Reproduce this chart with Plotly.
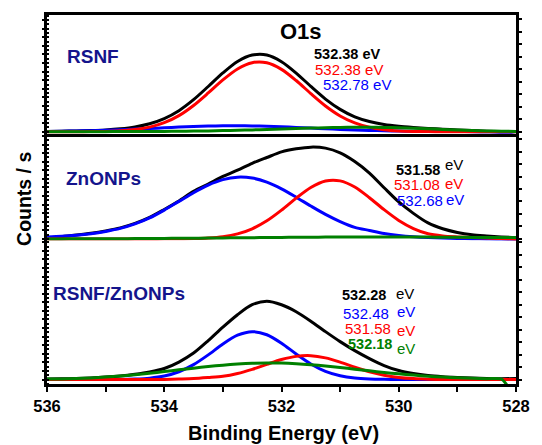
import plotly.graph_objects as go

# ---------------- data ----------------
energy = [536.0, 535.75, 535.5, 535.25, 535.0, 534.75, 534.5, 534.25, 534.0,
          533.75, 533.5, 533.25, 533.0, 532.75, 532.5, 532.25, 532.0, 531.75,
          531.5, 531.25, 531.0, 530.75, 530.5, 530.25, 530.0, 529.75, 529.5,
          529.25, 529.0, 528.75, 528.5, 528.25, 528.0]

# RSNF panel (counts, arbitrary units)
rsnf_black = [0.3, 0.5, 0.7, 1.1, 1.75, 2.9, 4.8, 8.0, 13.2, 21.1, 32.1, 45.3, 58.9,
              70.4, 76.8, 76.9, 70.2, 58.8, 45.4, 32.7, 22.4, 14.9, 10.2, 7.2, 5.4,
              4.2, 3.25, 2.45, 1.8, 1.2, 0.5, 0.2, 0.0]
rsnf_red = [0.0, 0.0, 0.0, 0.1, 0.3, 0.9, 2.1, 4.6, 9.0, 16.1, 26.3, 38.8, 51.9,
            62.9, 69.2, 69.1, 62.5, 51.3, 38.2, 25.8, 15.8, 8.8, 4.4, 2.0, 0.8,
            0.3, 0.1, 0.0, 0.0, 0.0, 0.0, 0.0, 0.0]
rsnf_blue = [0.3, 0.5, 0.7, 1.0, 1.4, 1.9, 2.6, 3.2, 3.9, 4.6, 5.2, 5.7, 5.9,
             6.0, 5.8, 5.5, 5.0, 4.3, 3.6, 2.9, 2.3, 1.7, 1.3, 0.9, 0.6,
             0.4, 0.25, 0.15, 0.1, 0.0, -0.3, -1.0, -4.0]
rsnf_green = [0.0, 0.0, 0.0, 0.0, 0.05, 0.1, 0.1, 0.2, 0.3, 0.4, 0.6, 0.8, 1.1,
              1.5, 1.8, 2.3, 2.7, 3.2, 3.6, 4.0, 4.3, 4.4, 4.5, 4.3, 4.0,
              3.5, 2.9, 2.3, 1.7, 1.2, 0.8, 0.5, 0.3]

# ZnONPs panel
zno_black = [1.0, 2.2, 3.8, 5.6, 8.0, 11.0, 15.5, 21.5, 29.5, 38.0, 47.6, 54.9, 62.6,
             68.9, 75.8, 81.6, 87.2, 90.3, 92.0, 91.0, 86.3, 77.6, 66.0, 51.3, 37.0,
             25.6, 16.0, 10.2, 6.5, 4.2, 3.0, 2.0, 1.2]
zno_blue = [2.0, 2.6, 3.6, 5.2, 7.5, 10.5, 15.0, 21.0, 28.9, 37.6, 46.3, 53.9, 59.4,
            61.9, 61.0, 56.9, 50.2, 41.8, 33.0, 24.6, 17.4, 11.6, 8.5, 5.5, 3.5,
            2.2, 1.4, 0.9, 0.5, 0.2, 0.0, -0.3, -1.0]
zno_red = [0.0, 0.0, 0.0, 0.0, 0.0, 0.0, 0.0, 0.0, 0.03, 0.1, 0.3, 0.9, 2.2,
           5.0, 10.1, 18.1, 28.8, 40.9, 51.6, 58.1, 58.2, 52.0, 41.3, 29.3, 18.5,
           10.4, 5.2, 3.0, 2.0, 1.3, 0.8, 0.4, -0.5]
zno_green = [0.0, 0.0, 0.1, 0.1, 0.2, 0.2, 0.3, 0.4, 0.5, 0.6, 0.7, 0.8, 1.0,
             1.1, 1.2, 1.4, 1.5, 1.6, 1.7, 1.8, 1.9, 1.9, 2.0, 2.0, 1.9,
             1.9, 1.8, 1.7, 1.6, 1.5, 1.5, 1.5, 1.5]

# RSNF/ZnONPs panel
mix_black = [0.5, 0.7, 1.0, 1.6, 2.4, 3.5, 5.2, 7.5, 11.0, 17.5, 26.5, 39.0, 52.5,
             65.0, 75.0, 78.5, 75.0, 68.0, 58.5, 48.0, 38.0, 29.0, 21.0, 14.0, 9.0,
             6.0, 4.0, 2.8, 2.0, 1.4, 1.0, 0.8, 1.0]
mix_blue = [0.0, 0.0, 0.0, 0.0, 0.03, 0.1, 0.5, 1.4, 3.5, 7.8, 14.9, 24.7, 35.6,
            44.4, 48.0, 44.9, 36.4, 25.6, 15.6, 8.2, 3.8, 1.5, 0.5, 0.15, 0.05,
            0.0, 0.0, 0.0, 0.0, 0.0, 0.0, 0.0, 0.0]
mix_red = [0.0, 0.0, 0.0, 0.0, 0.0, 0.0, 0.0, 0.0, 0.1, 0.5, 1.0, 2.0, 3.2,
           6.0, 10.2, 15.2, 20.0, 23.2, 23.9, 21.7, 17.4, 12.3, 7.7, 4.3, 2.1,
           0.9, 0.3, 0.1, 0.0, 0.0, 0.0, 0.0, 0.0]
mix_green_energy = energy[:-1] + [528.15]
mix_green = [0.4, 0.6, 1.0, 1.6, 2.4, 3.5, 4.8, 6.3, 8.0, 9.7, 11.4, 13.0, 14.4,
             15.5, 16.3, 16.6, 16.5, 15.9, 14.9, 13.6, 12.1, 10.4, 8.7, 7.1, 5.7,
             4.4, 3.3, 2.4, 1.7, 1.2, 0.8, 0.5, -6.0]

x_ticks = [536, 534, 532, 530, 528]
sample_names = ["RSNF", "ZnONPs", "RSNF/ZnONPs"]

# ---------------- styling / layout ----------------
W, H = 542, 445
L, R, T, B = 47, 525, 14, 384
FONT = "Arial, Liberation Sans, sans-serif"
BLACK, BLUE, RED, GREEN, NAVY = "#000000", "#0000FF", "#FF0000", "#008000", "#14148C"


def pxx(x):
    return (x - L) / (R - L)


def pxy(y):
    return (B - y) / (B - T)


panel_bounds = [(14, 133), (133, 240), (240, 384)]   # top, bottom in pixels
baselines = [131, 238.5, 379.5]

panels = [
    [(energy, rsnf_black, BLACK), (energy, rsnf_blue, BLUE), (energy, rsnf_red, RED), (energy, rsnf_green, GREEN)],
    [(energy, zno_black, BLACK), (energy, zno_blue, BLUE), (energy, zno_red, RED), (energy, zno_green, GREEN)],
    [(energy, mix_black, BLACK), (energy, mix_blue, BLUE), (energy, mix_red, RED), (mix_green_energy, mix_green, GREEN)],
]

fig = go.Figure()
layout = dict(
    width=W, height=H,
    margin=dict(l=L, r=W - R, t=T, b=H - B, pad=0),
    paper_bgcolor="white", plot_bgcolor="white",
    showlegend=False,
)

for k, curves in enumerate(panels, start=1):
    top, bot = panel_bounds[k - 1]
    base = baselines[k - 1]
    ylo = -(bot - base)
    yhi = ylo + (bot - top)
    for xs, ys, col in curves:
        fig.add_trace(go.Scatter(x=xs, y=ys, mode="lines",
                                 line=dict(color=col, width=3, shape="spline", smoothing=0.8),
                                 xaxis=f"x{k}", yaxis=f"y{k}", hoverinfo="skip"))
    # dummy trace for the right-hand axis
    fig.add_trace(go.Scatter(x=[], y=[], xaxis=f"x{k}", yaxis=f"y{k + 3}"))
    dom = [pxy(bot), pxy(top)]
    layout[f"yaxis{k}"] = dict(
        domain=dom, range=[ylo, yhi], anchor=f"x{k}",
        showline=True, linewidth=2.5, linecolor="black",
        showgrid=False, zeroline=False, showticklabels=False,
        ticks="outside", ticklen=2, tickwidth=1.5, tickcolor="black",
        tick0=0, dtick=8.6,
        minor=dict(ticks="inside", ticklen=2, tickwidth=1.5, tickcolor="black",
                   dtick=4.3, showgrid=False),
    )
    layout[f"yaxis{k + 3}"] = dict(
        overlaying=f"y{k}", side="right", anchor=f"x{k}", range=[ylo, yhi],
        showline=True, linewidth=2.5, linecolor="black",
        showgrid=False, zeroline=False, showticklabels=False,
        ticks="outside", ticklen=3, tickwidth=1.5, tickcolor="black",
        tick0=0, dtick=12.5,
    )
    xa = dict(domain=[0, 1], range=[536, 528], anchor=f"y{k}",
              showgrid=False, zeroline=False)
    if k == 1:
        xa.update(showline=True, linewidth=2.5, linecolor="black", mirror=True,
                  ticks="", showticklabels=False)
    elif k == 2:
        xa.update(showline=False, ticks="", showticklabels=False)
    else:
        xa.update(showline=True, linewidth=2.5, linecolor="black",
                  ticks="outside", ticklen=5, tickwidth=2, tickcolor="black",
                  tickvals=x_ticks, ticktext=[str(v) for v in x_ticks],
                  tickfont=dict(family=FONT, size=16.5, color="black", weight="bold"),
                  minor=dict(ticks="outside", ticklen=5, tickwidth=2, tickcolor="black", dtick=1,
                             showgrid=False))
    layout[f"xaxis{k}"] = xa


def ann(text, x, y, size, color, bold=False, xanchor="left", angle=0):
    return dict(text=text, x=pxx(x), y=pxy(y), xref="paper", yref="paper",
                xanchor=xanchor, yanchor="middle", showarrow=False, textangle=angle,
                borderpad=0,
                font=dict(family=FONT, size=size, color=color,
                          weight="bold" if bold else "normal"))


annotations = [
    ann("O1s", 306, 31, 22, BLACK, True, "center"),
    ann(sample_names[0], 66, 56, 19, NAVY, True),
    ann(sample_names[1], 65, 178, 19, NAVY, True),
    ann(sample_names[2], 52, 293, 19, NAVY, True),
    # RSNF labels
    ann("532.38 eV", 318, 53, 14.5, BLACK, True),
    ann("532.38 eV", 319, 68.5, 15, RED),
    ann("532.78 eV", 327, 83.5, 15, BLUE),
    # ZnONPs labels
    ann("531.58", 402, 169, 14.5, BLACK, True),
    ann("eV", 452, 164, 15, BLACK),
    ann("531.08", 400, 183.5, 15, RED),
    ann("eV", 452, 182.5, 15, RED),
    ann("532.68", 403, 200, 15, BLUE),
    ann("eV", 453, 199, 15, BLUE),
    # RSNF/ZnONPs labels
    ann("532.28", 347, 295, 14.5, BLACK, True),
    ann("eV", 402, 293, 15, BLACK),
    ann("532.48", 348, 313.5, 15, BLUE),
    ann("eV", 403, 311, 15, BLUE),
    ann("531.58", 350, 328.5, 15, RED),
    ann("eV", 403, 330, 15, RED),
    ann("532.18", 353, 344, 14.5, GREEN, True),
    ann("eV", 403, 348, 15, GREEN),
    # axis titles
    ann("Binding Energy (eV)", 288, 433, 20, BLACK, True, "center"),
    ann("Counts / s", 23, 198, 19.5, BLACK, True, "center", -90),
]
layout["annotations"] = annotations

fig.update_layout(**layout)
fig.write_html("out.html")
